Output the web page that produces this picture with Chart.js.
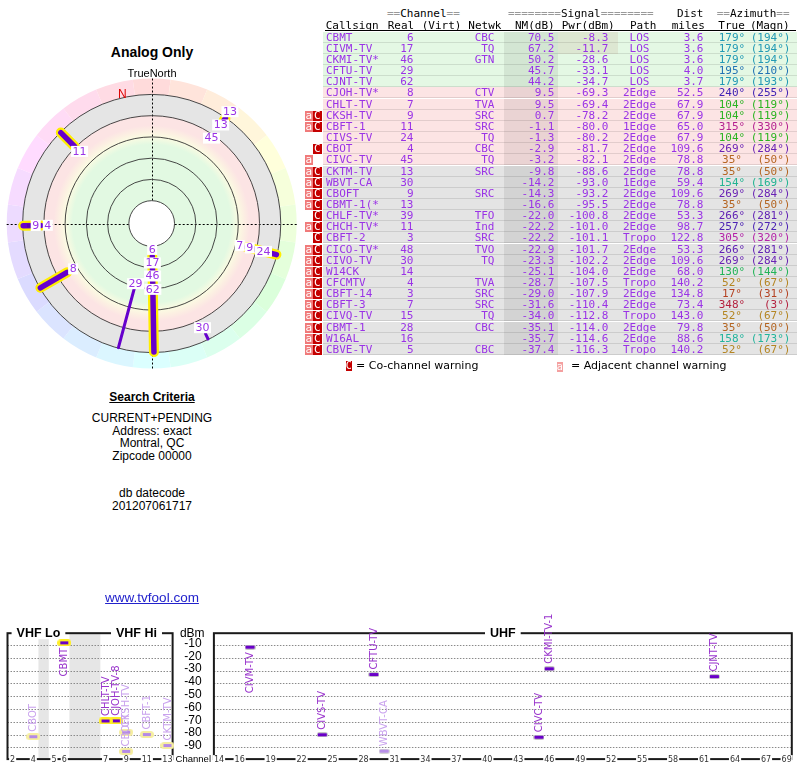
<!DOCTYPE html>
<html>
<head>
<meta charset="utf-8">
<title>Analog Only</title>
<script src="https://cdn.jsdelivr.net/npm/chart.js@4.4.1/dist/chart.umd.min.js"></script>
<style>
  body { margin: 0; background: #fff; font-family: "Liberation Sans", Arial, sans-serif; }
  #page { position: relative; width: 800px; height: 768px; overflow: hidden; }
  .t { position: absolute; white-space: pre; }
  .mono { font: 11px/11px "DejaVu Sans Mono", monospace; }
  .left { left: 0; width: 304px; text-align: center; color: #000; }
</style>
</head>
<body>
<div id="page">
  <canvas id="radar" width="304" height="316" style="position:absolute;left:0;top:60px;"></canvas>
  <canvas id="spectrum" width="800" height="168" style="position:absolute;left:0;top:600px;"></canvas>
  <div class="t left" style="top:44px;font:bold 14px/16px 'Liberation Sans',Arial,sans-serif;">Analog Only</div>
  <div class="t left" style="top:67px;font:11px/13px 'Liberation Sans',Arial,sans-serif;">TrueNorth</div>
  <div class="t left" style="top:390px;font:bold 12px/14px 'Liberation Sans',Arial,sans-serif;text-decoration:underline;">Search Criteria</div>
  <div class="t left" style="top:412px;font:12px/12.6px 'Liberation Sans',Arial,sans-serif;">CURRENT+PENDING
Address: exact
Montral, QC
Zipcode 00000</div>
  <div class="t left" style="top:487px;font:12px/12.6px 'Liberation Sans',Arial,sans-serif;">db datecode
201207061717</div>
  <div class="t left" style="top:590px;font:13.5px/16px 'Liberation Sans',Arial,sans-serif;color:#2222cc;text-decoration:underline;">www.tvfool.com</div>
  <div id="tbl"></div>
</div>
<script>
// station table, top to bottom
const callsigns = ['CBMT','CIVM-TV','CKMI-TV*','CFTU-TV','CJNT-TV','CJOH-TV*','CHLT-TV','CKSH-TV','CBFT-1','CIVS-TV','CBOT','CIVC-TV','CKTM-TV','WBVT-CA','CBOFT','CBMT-1(*','CHLF-TV*','CHCH-TV*','CBFT-2','CICO-TV*','CIVO-TV','W14CK','CFCMTV','CBFT-14','CBFT-3','CIVQ-TV','CBMT-1','W16AL','CBVE-TV'];
const realCh = [6,17,46,29,62,8,7,9,11,24,4,45,13,30,9,13,39,11,3,48,30,14,4,3,7,15,28,16,5];
const networks = ['CBC','TQ','GTN','','','CTV','TVA','SRC','SRC','TQ','CBC','TQ','SRC','','SRC','','TFO','Ind','SRC','TVO','TQ','','TVA','SRC','SRC','TQ','CBC','','CBC'];
const nmDb = [70.5,67.2,50.2,45.7,44.2,9.5,9.5,0.7,-1.1,-1.3,-2.9,-3.2,-9.8,-14.2,-14.3,-16.6,-22.0,-22.2,-22.2,-22.9,-23.3,-25.1,-28.7,-29.0,-31.6,-34.0,-35.1,-35.7,-37.4];
const pwrDbm = [-8.3,-11.7,-28.6,-33.1,-34.7,-69.3,-69.4,-78.2,-80.0,-80.2,-81.7,-82.1,-88.6,-93.0,-93.2,-95.5,-100.8,-101.0,-101.1,-101.7,-102.2,-104.0,-107.5,-107.9,-110.4,-112.8,-114.0,-114.6,-116.3];
const paths = ['LOS','LOS','LOS','LOS','LOS','2Edge','2Edge','2Edge','1Edge','2Edge','2Edge','2Edge','2Edge','1Edge','2Edge','2Edge','2Edge','2Edge','Tropo','2Edge','2Edge','2Edge','Tropo','2Edge','2Edge','Tropo','2Edge','2Edge','Tropo'];
const distMiles = [3.6,3.6,3.6,4.0,3.7,52.5,67.9,67.9,65.0,67.9,109.6,78.8,78.8,59.4,109.6,78.8,53.3,98.7,122.8,53.3,109.6,68.0,140.2,134.8,73.4,143.0,79.8,88.6,140.2];
const azTrue = [179,179,179,195,179,240,104,104,315,104,269,35,35,154,269,35,266,257,305,266,269,130,52,17,348,52,35,158,52];
const azMagn = [194,194,194,210,193,255,119,119,330,119,284,50,50,169,284,50,281,272,320,281,284,144,67,31,3,67,50,173,67];
const warnings = ['','','','','','','','aC','aC','','C','a','aC','aC','aC','aC','C','aC','C','aC','aC','aC','aC','aC','aC','aC','aC','aC','aC'];
// how each station shows on the radar plot
const radarMark = ['thick','dot','dot','thin','dot','thick','thick','dot','thick','dot','thick','none','none','thin','dot','thick',
  'off','off','off','off','off','off','off','off','off','off','off','off','off'];
const fullNames = { 'CKMI-TV*': 'CKMI-TV-1', 'CJOH-TV*': 'CJOH-TV-8' };

// radar rings (NM dB) and spectrum axes
const ringLevels = [80, 60, 40, 20, 0, -20];
const dbmTicks = [-10, -20, -30, -40, -50, -60, -70, -80, -90];
const vhfTicks = [2, 4, 5, 6, 7, 9, 11, 13];
const uhfTicks = [14, 16, 19, 22, 25, 28, 31, 34, 37, 40, 43, 46, 49, 52, 55, 58, 61, 64, 67, 69];

const purple = '#9a33e6';
const lineColor = '#6600cc';

Chart.defaults.animation = false;
Chart.defaults.font.family = 'DejaVu Sans';

// ---------- table ----------
const tbl = document.getElementById('tbl');
function cell(text, x, top, align, color, extra) {
  const d = document.createElement('div');
  d.className = 't mono';
  d.textContent = text;
  d.style.top = top + 'px';
  d.style.color = color || purple;
  if (align === 'left') d.style.left = x + 'px';
  else {
    d.style.width = '120px';
    d.style.textAlign = align;
    d.style.left = (align === 'right' ? x - 120 : x - 60) + 'px';
  }
  if (extra) Object.assign(d.style, extra);
  tbl.appendChild(d);
  return d;
}
function box(left, top, w, h, bg) {
  const d = document.createElement('div');
  d.className = 't';
  Object.assign(d.style, { left: left + 'px', top: top + 'px', width: w + 'px', height: h + 'px', background: bg });
  tbl.appendChild(d);
  return d;
}
function azColor(az) {
  const hue = az <= 60 ? az * 0.78 : az <= 245 ? az + 12 : az;
  return `hsl(${hue}, 68%, 42%)`;
}

// header
function headerLine(parts, x, top) {
  const d = cell('', x, top, 'left', '#000');
  parts.forEach(([txt, col]) => {
    const s = document.createElement('span');
    s.textContent = txt; s.style.color = col;
    d.appendChild(s);
  });
}
headerLine([['==', '#999'], ['Channel', '#000'], ['==', '#999']], 387, 8);
headerLine([['========', '#999'], ['Signal', '#000'], ['========', '#999']], 508, 8);
cell('Dist', 703.5, 8, 'right', '#000');
headerLine([['==', '#999'], ['Azimuth', '#000'], ['==', '#999']], 716.7, 8);
[['Callsign', 325.7], ['Real', 387.7], ['(Virt)', 421.7], ['Netwk', 468.3], ['NM(dB)', 515], ['Pwr(dBm)', 561.7],
 ['Path', 630], ['miles', 671.7], ['True', 718.3], ['(Magn)', 750]].forEach(([t, x]) => cell(t, x, 19.5, 'left', '#000'));
box(325, 30, 471, 1, '#000');

callsigns.forEach((cs, i) => {
  const top = Math.round(31.7 + i * 11.15);
  const nm = nmDb[i];
  const bg = nm >= 15 ? '#e4f8e4' : nm >= -5 ? '#fce4e4' : '#e4e4e4';
  box(323, top, 474, 11, bg);
  box(323, top + 10, 474, 1, 'rgba(0,0,0,0.10)');
  box(504, top, 54, 11, 'rgba(0,0,0,0.07)');
  if (pwrDbm[i] > -15) box(558, top, 60, 11, 'rgba(170,90,60,0.10)');
  if (warnings[i].includes('a')) {
    const b = box(305, top + 0.5, 7.5, 10, '#f07a7a');
    Object.assign(b.style, { color: '#fff', font: '11px/10px "DejaVu Sans Mono",monospace', textAlign: 'center' });
    b.textContent = 'a';
  }
  if (warnings[i].includes('C')) {
    const b = box(312.5, top + 0.5, 9.5, 10, '#c40000');
    Object.assign(b.style, { color: '#fff', font: '11px/10px "DejaVu Sans Mono",monospace', textAlign: 'center' });
    b.textContent = 'C';
  }
  const ty = top;
  cell(cs, 326, ty, 'left');
  cell(String(realCh[i]), 413.5, ty, 'right');
  cell(networks[i], 494.5, ty, 'right');
  cell(nm.toFixed(1), 554.5, ty, 'right');
  cell(pwrDbm[i].toFixed(1), 608.5, ty, 'right');
  cell(paths[i], 639.5, ty, 'center');
  cell(distMiles[i].toFixed(1), 703.5, ty, 'right');
  cell(azTrue[i] + '°', 732, ty, 'center', azColor(azTrue[i]));
  cell('(' + azMagn[i] + '°)', 790.5, ty, 'right', azColor(azTrue[i]));
});

// legend
(function () {
  const c = box(345.5, 361, 6.5, 10, '#c40000');
  Object.assign(c.style, { color: '#fff', font: '10px/10px "DejaVu Sans Mono",monospace', textAlign: 'center' });
  c.textContent = 'C';
  const a = box(556.5, 361.5, 6.5, 10, '#f4a0a0');
  Object.assign(a.style, { color: '#fff', font: '10px/10px "DejaVu Sans Mono",monospace', textAlign: 'center' });
  a.textContent = 'a';
  cell('= Co-channel warning', 356, 359, 'left', '#000', { font: '11px/13px "DejaVu Sans",sans-serif' });
  cell('= Adjacent channel warning', 571, 359, 'left', '#000', { font: '11px/13px "DejaVu Sans",sans-serif' });
})();

// ---------- radar ----------
const R0 = 101.5;                    // radius (dB units) = R0 - NM
const rOf = nm => R0 - nm;
const R_OUT = rOf(ringLevels[ringLevels.length - 1]);
const R_RING = R_OUT + 15;
const decl = azMagn[0] - azTrue[0];
function polar(az, r) {
  const a = az * Math.PI / 180;
  return { x: r * Math.sin(a), y: r * Math.cos(a) };
}
const radarIdx = callsigns.map((c, i) => i).filter(i => radarMark[i] !== 'off');

const radarSets = [];
radarIdx.forEach(i => {
  const m = radarMark[i];
  if (m !== 'thick' && m !== 'thin') return;
  const seg = [polar(azTrue[i], rOf(nmDb[i])), polar(azTrue[i], R_OUT - 0.5)];
  if (m === 'thick') radarSets.push({ data: seg, showLine: true, borderColor: '#ffee00', borderWidth: 10, borderCapStyle: 'round', pointRadius: 0, order: 3 });
  radarSets.push({ data: seg, showLine: true, borderColor: lineColor, borderWidth: m === 'thick' ? 5.5 : 3, borderCapStyle: 'round', pointRadius: 0, order: 2 });
});
radarSets.push({
  data: radarIdx.filter(i => radarMark[i] === 'dot').map(i => polar(azTrue[i], rOf(nmDb[i]))),
  pointStyle: 'rect', pointRadius: 2.5, backgroundColor: '#5a00b0', borderColor: '#5a00b0', borderWidth: 0, order: 1
});

const radarDeco = {
  id: 'radarDeco',
  beforeDatasetsDraw(chart) {
    const { ctx, scales: { x, y } } = chart;
    const cx = x.getPixelForValue(0), cy = y.getPixelForValue(0);
    const k = x.getPixelForValue(1) - cx;
    const rOut = R_OUT * k, rRing = R_RING * k;
    ctx.save();
    // hue wedges by azimuth
    for (let az = 0; az < 360; az += 15) {
      const a0 = (az - 7.5 - 90) * Math.PI / 180, a1 = (az + 7.5 - 90) * Math.PI / 180;
      ctx.beginPath();
      ctx.arc(cx, cy, rRing, a0, a1);
      ctx.arc(cx, cy, rOut, a1, a0, true);
      ctx.closePath();
      ctx.fillStyle = `hsl(${az}, 100%, 93%)`;
      ctx.fill();
    }
    // signal bands
    const g = ctx.createRadialGradient(cx, cy, 0, cx, cy, rOut);
    const st = (px, c) => g.addColorStop(Math.min(1, px / rOut), c);
    st(0, '#e2f9e2'); st(79, '#e2f9e2'); st(87, '#fbfbe2'); st(92, '#fcf0e2');
    st(98, '#fce4e4'); st(107.5, '#fce4e4'); st(108.5, '#e5e5e5'); st(rOut, '#e5e5e5');
    ctx.beginPath(); ctx.arc(cx, cy, rOut, 0, Math.PI * 2); ctx.fillStyle = g; ctx.fill();
    // crosshair
    ctx.strokeStyle = '#000'; ctx.lineWidth = 1; ctx.setLineDash([2, 2]);
    ctx.beginPath();
    ctx.moveTo(x.getPixelForValue(-R_RING), Math.round(cy) + 0.5); ctx.lineTo(x.getPixelForValue(R_RING), Math.round(cy) + 0.5);
    ctx.moveTo(Math.round(cx) + 0.5, y.getPixelForValue(R_RING)); ctx.lineTo(Math.round(cx) + 0.5, y.getPixelForValue(-R_RING));
    ctx.stroke();
    ctx.setLineDash([]);
    // white centre
    ctx.beginPath(); ctx.arc(cx, cy, rOf(ringLevels[0]) * k, 0, Math.PI * 2); ctx.fillStyle = '#fff'; ctx.fill();
    // rings
    ctx.strokeStyle = '#333'; ctx.lineWidth = 0.9;
    ringLevels.forEach(v => { ctx.beginPath(); ctx.arc(cx, cy, rOf(v) * k, 0, Math.PI * 2); ctx.stroke(); });
    // magnetic north marker
    const n = polar(-decl, R_OUT + 4.5);
    ctx.fillStyle = '#dd0000'; ctx.font = '12px "Liberation Sans", Arial, sans-serif';
    ctx.textAlign = 'left'; ctx.textBaseline = 'middle';
    ctx.fillText('N', x.getPixelForValue(n.x) + 1, y.getPixelForValue(n.y));
    ctx.restore();
  }
};

const radarLabels = {
  id: 'radarLabels',
  afterDatasetsDraw(chart) {
    const { ctx, scales: { x, y } } = chart;
    const cx = x.getPixelForValue(0), cy = y.getPixelForValue(0);
    const k = x.getPixelForValue(1) - cx;
    ctx.save();
    ctx.font = '11px "DejaVu Sans"';
    ctx.textAlign = 'center'; ctx.textBaseline = 'middle';
    const placed = [];
    radarIdx.forEach(i => {
      const a = azTrue[i] * Math.PI / 180;
      const txt = String(realCh[i]);
      const w = ctx.measureText(txt).width + 3, h = 13;
      let r = rOf(nmDb[i]) * k - 7, px, py;
      for (let n = 0; n < 80; n++) {
        px = cx + r * Math.sin(a); py = cy - r * Math.cos(a);
        const hit = placed.some(b => Math.abs(b.x - px) < (b.w + w) / 2 && Math.abs(b.y - py) < (b.h + h) / 2);
        if (!hit) break;
        r += 1;
      }
      placed.push({ x: px, y: py, w, h });
      ctx.fillStyle = '#fff';
      ctx.fillRect(px - w / 2, py - 5.5, w, 11);
      ctx.fillStyle = purple;
      ctx.fillText(txt, px, py + 0.5);
    });
    ctx.restore();
  }
};

new Chart(document.getElementById('radar'), {
  type: 'scatter',
  data: { datasets: radarSets },
  options: {
    responsive: false,
    layout: { padding: { left: 6.7, right: 7.3, top: 18.5, bottom: 7.5 } },
    scales: {
      x: { type: 'linear', min: -R_RING, max: R_RING, display: false },
      y: { type: 'linear', min: -R_RING, max: R_RING, display: false }
    },
    plugins: { legend: { display: false }, tooltip: { enabled: false } }
  },
  plugins: [radarDeco, radarLabels]
});

// ---------- spectrum ----------
// channel -> slot on the x axis (VHF lo, FM gap, VHF hi, gap, UHF)
const slotOf = ch => ch <= 4 ? ch - 2 : ch <= 6 ? ch - 1 : ch <= 13 ? ch + 2 : ch + 6;
const panels = [{ from: 0, to: 16 }, { from: 20, to: 76 }];
const titles = [{ text: 'VHF Lo', at: 3 }, { text: 'VHF Hi', at: 12.5 }, { text: 'UHF', at: 48 }];
const gapSlots = [[3, 4], [6, 9]];
const specIdx = callsigns.map((c, i) => i).filter(i => nmDb[i] > -15);

function markImage(core, halo, hw, hh, cw) {
  const c = document.createElement('canvas');
  c.width = hw; c.height = hh;
  const g = c.getContext('2d');
  const r = hh / 2;
  g.fillStyle = halo;
  g.beginPath();
  g.arc(r, r, r, Math.PI / 2, Math.PI * 1.5);
  g.arc(hw - r, r, r, -Math.PI / 2, Math.PI / 2);
  g.closePath(); g.fill();
  g.fillStyle = core;
  g.fillRect((hw - cw) / 2, (hh - 3) / 2, cw, 3);
  return c;
}
const markImages = {
  darkHalo: markImage('#6a00c8', '#ffee22', 14, 7, 8),
  lightHalo: markImage('#b48ae6', '#f6eea0', 14, 7, 8),
  dark: markImage('#6a00c8', '#c4c4c4', 11, 5, 9),
  light: markImage('#b890e8', '#d4d4d4', 11, 5, 9)
};
const kindOf = i => (warnings[i].includes('C') ? 'light' : 'dark') + (realCh[i] <= 13 ? 'Halo' : '');

const specSets = Object.keys(markImages).map(kind => ({
  data: specIdx.filter(i => kindOf(i) === kind).map(i => ({ x: slotOf(realCh[i]) + 0.5, y: pwrDbm[i] })),
  pointStyle: markImages[kind], pointRadius: 5
}));

const specDeco = {
  id: 'specDeco',
  beforeDatasetsDraw(chart) {
    const { ctx, chartArea: area, scales: { x, y } } = chart;
    const top = area.top, bot = area.bottom;
    ctx.save();
    ctx.fillStyle = '#e6e6e6';
    gapSlots.forEach(([a, b]) => {
      const x0 = x.getPixelForValue(a), x1 = x.getPixelForValue(b);
      ctx.fillRect(x0, top, x1 - x0, bot - top);
    });
    // dotted grid
    ctx.strokeStyle = '#8a8a8a'; ctx.lineWidth = 1; ctx.setLineDash([1.5, 1.5]);
    dbmTicks.forEach(v => {
      const py = Math.round(y.getPixelForValue(v)) + 0.5;
      panels.forEach(p => {
        ctx.beginPath(); ctx.moveTo(x.getPixelForValue(p.from), py); ctx.lineTo(x.getPixelForValue(p.to), py); ctx.stroke();
      });
    });
    ctx.setLineDash([]);
    // frames
    ctx.strokeStyle = '#1a1a1a'; ctx.lineWidth = 2;
    panels.forEach(p => {
      const x0 = x.getPixelForValue(p.from), x1 = x.getPixelForValue(p.to);
      ctx.strokeRect(x0, top + 1, x1 - x0, bot - top - 2);
    });
    // panel titles
    ctx.font = 'bold 12.5px "Liberation Sans", Arial, sans-serif';
    ctx.textAlign = 'center'; ctx.textBaseline = 'middle';
    titles.forEach(t => {
      const px = x.getPixelForValue(t.at), w = ctx.measureText(t.text).width + 10;
      ctx.fillStyle = '#fff'; ctx.fillRect(px - w / 2, top - 6, w, 13);
      ctx.fillStyle = '#000'; ctx.fillText(t.text, px, top + 1);
    });
    // dBm axis labels
    const lx = x.getPixelForValue(panels[0].to) + 29;
    ctx.font = '12px "Liberation Sans", Arial, sans-serif';
    ctx.textAlign = 'right';
    ctx.fillText('dBm', lx + 3, top + 1);
    dbmTicks.forEach(v => ctx.fillText(String(v), lx, y.getPixelForValue(v) - 1.5));
    // channel ticks on the bottom line
    ctx.font = '8px "DejaVu Sans"';
    ctx.textAlign = 'center';
    vhfTicks.concat(uhfTicks).forEach(ch => {
      const px = x.getPixelForValue(slotOf(ch) + 0.5), w = ctx.measureText(String(ch)).width + 2;
      ctx.fillStyle = '#fff'; ctx.fillRect(px - w / 2, bot - 5, w, 9);
      ctx.fillStyle = '#333'; ctx.fillText(String(ch), px, bot - 0.5);
    });
    ctx.textAlign = 'left';
    ctx.fillStyle = '#000';
    ctx.font = '9.5px "Liberation Sans", Arial, sans-serif';
    ctx.fillText('Channel', x.getPixelForValue(panels[0].to) + 3, bot - 1);
    ctx.restore();
  },
  afterDatasetsDraw(chart) {
    const { ctx, scales: { x, y } } = chart;
    ctx.save();
    ctx.font = '10px "DejaVu Sans"';
    ctx.textBaseline = 'middle';
    specIdx.forEach(i => {
      const px = x.getPixelForValue(slotOf(realCh[i]) + 0.5), py = y.getPixelForValue(pwrDbm[i]);
      const below = pwrDbm[i] > -20;
      const name = fullNames[callsigns[i]] || callsigns[i];
      ctx.save();
      ctx.translate(px + 0.5, below ? py + 5 : py - 5);
      ctx.rotate(-Math.PI / 2);
      ctx.textAlign = below ? 'right' : 'left';
      ctx.fillStyle = warnings[i].includes('C') ? '#c9a2ee' : '#9933cc';
      ctx.fillText(name, 0, 0);
      ctx.restore();
    });
    ctx.restore();
  }
};

new Chart(document.getElementById('spectrum'), {
  type: 'scatter',
  data: { datasets: specSets },
  options: {
    responsive: false,
    layout: { padding: { left: 7.5, right: 8.2, top: 32.2, bottom: 7.9 } },
    scales: {
      x: { type: 'linear', min: panels[0].from, max: panels[1].to, display: false },
      y: { type: 'linear', min: -100, max: 0, display: false }
    },
    plugins: { legend: { display: false }, tooltip: { enabled: false } }
  },
  plugins: [specDeco]
});
</script>
</body>
</html>
